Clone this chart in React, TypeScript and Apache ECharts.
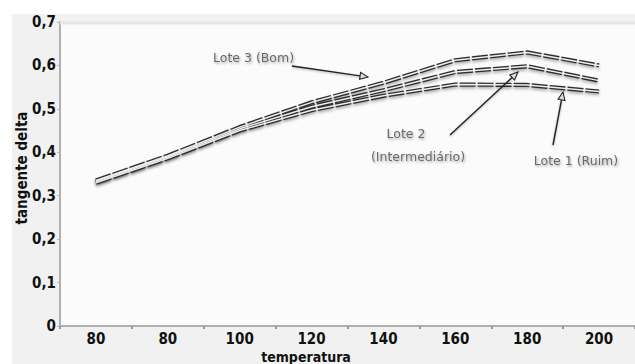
import React, { useEffect, useRef } from "react";
import * as echarts from "echarts";

const categories = ["80", "80", "100", "120", "140", "160", "180", "200"];
const lote3 = [0.335, 0.392, 0.458, 0.515, 0.56, 0.612, 0.63, 0.6];
const lote2 = [0.333, 0.389, 0.454, 0.505, 0.543, 0.585, 0.598, 0.565];
const lote1 = [0.33, 0.386, 0.45, 0.497, 0.53, 0.556, 0.555, 0.54];
const seriesNames = ["Lote 3 (Bom)", "Lote 2 (Intermediário)", "Lote 1 (Ruim)"];
const xTitle = "temperatura";
const yTitle = "tangente delta";

const FONT = "'Liberation Sans Narrow', 'DejaVu Sans Condensed', 'Liberation Sans', sans-serif";

function arrow(x1: number, y1: number, x2: number, y2: number) {
  const ang = Math.atan2(y2 - y1, x2 - x1);
  const len = 8;
  const w = 3.5;
  const bx = x2 - len * Math.cos(ang);
  const by = y2 - len * Math.sin(ang);
  const px = -Math.sin(ang) * w;
  const py = Math.cos(ang) * w;
  return [
    {
      type: "line",
      shape: { x1, y1, x2: bx, y2: by },
      style: { stroke: "#222", lineWidth: 1.4, shadowColor: "rgba(0,0,0,0.3)", shadowBlur: 2, shadowOffsetY: 1 },
      z: 20,
    },
    {
      type: "polygon",
      shape: { points: [[x2, y2], [bx + px, by + py], [bx - px, by - py]] },
      style: { fill: "#ddd", stroke: "#222", lineWidth: 1.1 },
      z: 20,
    },
  ];
}

function annText(text: string, x: number, y: number, align: string = "left") {
  return {
    type: "text",
    x,
    y,
    style: {
      text,
      fill: "#6a6a6a",
      font: "12.5px 'DejaVu Sans', sans-serif",
      align,
      verticalAlign: "middle",
      textShadowColor: "rgba(0,0,0,0.35)",
      textShadowBlur: 2,
      textShadowOffsetX: 1,
      textShadowOffsetY: 1.5,
    },
    z: 20,
  };
}

function lineSeries(name: string, data: number[]) {
  return [
    {
      name,
      type: "line",
      data,
      symbol: "none",
      lineStyle: {
        color: "#2e2e2e",
        width: 4.2,
        type: [16, 2],
        shadowColor: "rgba(0,0,0,0.3)",
        shadowBlur: 3,
        shadowOffsetY: 2,
      },
      z: 3,
    },
    {
      name: name + " ",
      type: "line",
      data,
      symbol: "none",
      lineStyle: { color: "#eeeeee", width: 1.5 },
      z: 4,
    },
  ];
}

export default function App() {
  const ref = useRef<HTMLDivElement>(null);
  useEffect(() => {
    if (!ref.current) return;
    const chart = echarts.init(ref.current, null, { renderer: "svg" });
    chart.setOption({
      animation: false,
      backgroundColor: "#ffffff",
      grid: { left: 60, right: 0, top: 22, bottom: 38, backgroundColor: "#fbfbfb", show: true, borderWidth: 0 },
      xAxis: {
        type: "category",
        data: categories,
        boundaryGap: true,
        axisLine: { lineStyle: { color: "#b0b0b0", width: 2 } },
        axisTick: { show: true, length: 3, lineStyle: { color: "#999", width: 2 } },
        axisLabel: { fontFamily: FONT, fontWeight: "bold", fontSize: 15, color: "#111", margin: 5 },
        splitLine: { show: false },
      },
      yAxis: {
        type: "value",
        min: 0,
        max: 0.7,
        interval: 0.1,
        axisLine: { show: true, lineStyle: { color: "#b0b0b0", width: 2 } },
        axisTick: { show: true, length: 3, lineStyle: { color: "#bbb", width: 1 } },
        axisLabel: {
          fontFamily: FONT,
          fontWeight: "bold",
          fontSize: 15,
          color: "#111",
          margin: 4,
          formatter: (v: number) => (Math.abs(v) < 1e-9 ? "0" : (Math.round(v * 10) / 10).toFixed(1).replace(".", ",")),
        },
        splitLine: { show: false },
      },
      graphic: [
        {
          type: "rect",
          shape: { x: 12, y: 14, width: 623, height: 350 },
          style: { fill: "#f1f1f1" },
          z: -10,
          silent: true,
        },
        {
          type: "line",
          shape: { x1: 60, y1: 23, x2: 635, y2: 23 },
          style: { stroke: "#e6e6e6", lineWidth: 3 },
          z: 1,
        },
        {
          type: "text",
          x: 306,
          y: 357,
          style: { text: xTitle, font: "bold 14px " + FONT, fill: "#111", align: "center", verticalAlign: "middle" },
          z: 20,
        },
        {
          type: "text",
          x: 22,
          y: 168,
          rotation: Math.PI / 2,
          style: { text: yTitle, font: "bold 15px " + FONT, fill: "#111", align: "center", verticalAlign: "middle" },
          z: 20,
        },
        annText("Lote 3 (Bom)", 213, 57),
        ...arrow(292, 66, 368, 77),
        annText("Lote 2", 406, 133, "center"),
        annText("(Intermediário)", 418, 156, "center"),
        ...arrow(450, 135, 518, 72),
        annText("Lote 1 (Ruim)", 576, 160, "center"),
        ...arrow(553, 145, 563, 92),
      ],
      series: [
        ...lineSeries(seriesNames[0], lote3),
        ...lineSeries(seriesNames[1], lote2),
        ...lineSeries(seriesNames[2], lote1),
      ],
    });
    return () => chart.dispose();
  }, []);
  return <div ref={ref} style={{ position: "fixed", left: 0, top: 0, width: 635, height: 364 }} />;
}
